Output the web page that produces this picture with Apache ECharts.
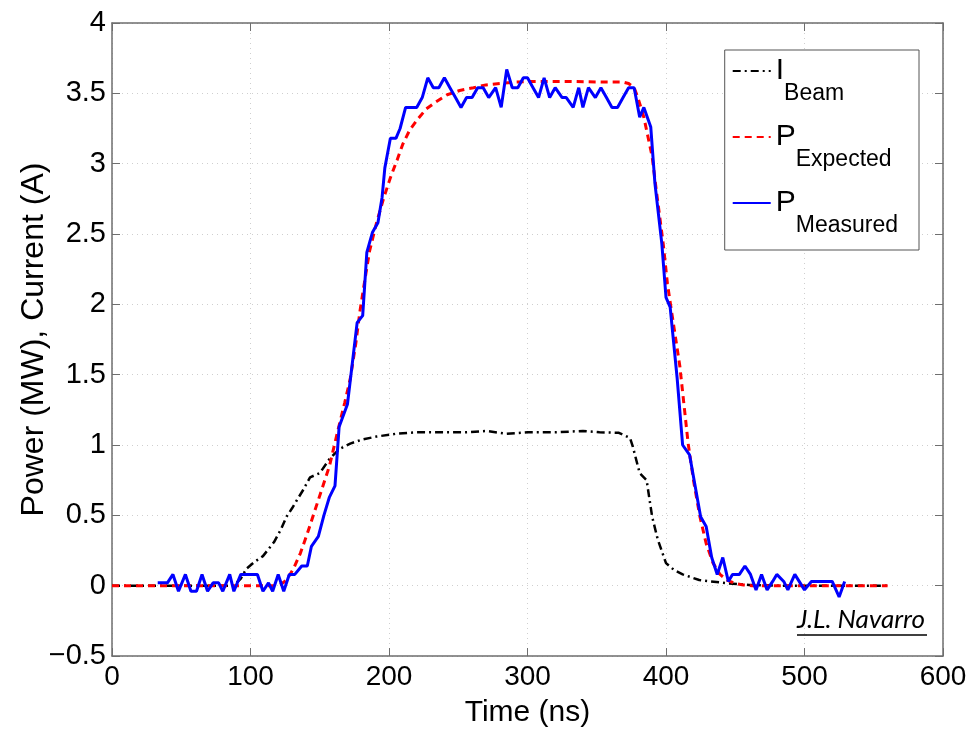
<!DOCTYPE html>
<html>
<head>
<meta charset="utf-8">
<script src="https://cdn.jsdelivr.net/npm/echarts@6/dist/echarts.min.js"></script>
<style>
html,body{margin:0;padding:0;background:#fff;}
#chart{width:970px;height:730px;}
</style>
</head>
<body>
<div id="chart"></div>
<script>
// ---- Data ----
const seriesNames = ['I_Beam', 'P_Expected', 'P_Measured'];
const legendMain = ['I', 'P', 'P'];
const legendSub = ['Beam', 'Expected', 'Measured'];

const xTicks = [0, 100, 200, 300, 400, 500, 600];
const yTicks = [-0.5, 0, 0.5, 1, 1.5, 2, 2.5, 3, 3.5, 4];

// I_Beam (A): [time ns, value]
const beamCurrent = [
  [0,0],[88,0],[93,0.05],[97,0.12],[103,0.17],[109,0.21],[113,0.26],[117,0.31],[122,0.4],
  [126,0.49],[130,0.55],[133,0.6],[138,0.68],[143,0.77],[150,0.8],[157,0.9],[164,0.97],
  [172,1.01],[181,1.04],[191,1.06],[205,1.08],[220,1.09],[240,1.09],[255,1.09],[270,1.1],
  [285,1.08],[300,1.09],[320,1.09],[340,1.1],[352,1.09],[366,1.087],[374,1.05],[376,0.99],
  [381,0.8],[386,0.75],[390,0.49],[394,0.33],[400,0.16],[406,0.11],[412,0.08],[424,0.04],
  [444,0.017],[460,0.005],[480,0],[560,0]
];

// P_Expected (MW)
const expectedPower = [
  [0,0],[118,0],[122,0.01],[126,0.04],[131,0.12],[136,0.23],[141,0.37],[145,0.49],[151,0.67],
  [157,0.85],[163,1.1],[168,1.3],[172,1.47],[176,1.72],[179,1.95],[183,2.2],[186,2.38],
  [191,2.58],[196,2.75],[201,2.9],[206,3.03],[210,3.14],[215,3.24],[221,3.32],[227,3.39],
  [234,3.44],[242,3.49],[251,3.52],[261,3.54],[270,3.56],[280,3.57],[292,3.58],[304,3.585],
  [330,3.585],[355,3.58],[369,3.58],[373,3.57],[377,3.54],[380,3.46],[384,3.33],[390,3.05],
  [393,2.81],[398,2.43],[401,2.15],[404,1.95],[410,1.56],[416,1.01],[420,0.74],[424.5,0.49],
  [429,0.3],[434,0.16],[439,0.08],[444,0.04],[450,0.015],[456,0.005],[462,0],[560,0]
];

// P_Measured (MW)
const measuredPower = [
  [33,0.02],[40,0.02],[44,0.08],[48,-0.04],[53,0.08],[57,-0.04],[61,-0.04],[65,0.08],[69,-0.04],
  [73,0.02],[77,0.02],[80,-0.04],[85,0.08],[88,-0.04],[93,0.08],[105,0.08],[109,-0.04],[113,0.02],
  [116,-0.04],[120,0.08],[124,-0.04],[128,0.08],[132,0.08],[137,0.14],[141,0.14],[144,0.28],
  [149,0.35],[153,0.5],[157,0.63],[161,0.71],[164,1.13],[170,1.29],[177,1.87],[181,1.92],
  [184,2.37],[188,2.51],[192,2.58],[195,2.76],[197,2.97],[201,3.18],[205,3.18],[208,3.25],
  [212,3.4],[220,3.4],[224,3.47],[228,3.61],[232,3.54],[236,3.54],[240,3.61],[244,3.54],
  [248,3.47],[252,3.4],[256,3.47],[260,3.47],[264,3.54],[268,3.54],[272,3.47],[277,3.54],
  [281,3.4],[285,3.67],[289,3.54],[293,3.54],[297,3.61],[300,3.61],[304,3.54],[308,3.47],
  [312,3.61],[316,3.47],[320,3.54],[325,3.47],[328,3.47],[333,3.4],[337,3.54],[340,3.4],
  [344,3.54],[349,3.47],[353,3.54],[357,3.47],[361,3.4],[365,3.4],[369,3.47],[373,3.54],
  [377,3.54],[381,3.33],[384,3.4],[389,3.26],[392,2.86],[397,2.43],[400,2.05],[403,1.98],
  [408,1.48],[412,1.0],[417,0.93],[425,0.49],[429,0.42],[433,0.2],[437,0.08],[441,0.2],
  [445,0.03],[448,0.08],[453,0.08],[457,0.14],[461,0.08],[465,-0.03],[469,0.08],[473,-0.03],
  [477,0.03],[480,0.08],[485,0.03],[488,-0.03],[493,0.08],[500,-0.03],[505,0.03],[520,0.03],
  [525,-0.08],[529,0.03]
];

// ---- Chart ----
const FONT = '"Liberation Sans", Arial, Helvetica, sans-serif';
const AXIS_COLOR = '#6e6e6e';

const chart = echarts.init(document.getElementById('chart'), null, {renderer: 'canvas'});

function yFmt(v) {
  const s = String(Math.abs(v));
  return v < 0 ? '\u2212' + s : s;
}

const baseX = {
  type: 'value', min: xTicks[0], max: xTicks[xTicks.length - 1], interval: xTicks[1] - xTicks[0]
};
const baseY = {
  type: 'value', min: yTicks[0], max: yTicks[yTicks.length - 1], interval: yTicks[1] - yTicks[0]
};

const legendIndex = {};
seriesNames.forEach((n, i) => legendIndex[n] = i);

const option = {
  backgroundColor: '#fff',
  animation: false,
  grid: {left: 112, right: 27, top: 23, bottom: 74, containLabel: false, outerBoundsMode: 'none'},
  xAxis: [
    Object.assign({}, baseX, {
      position: 'bottom',
      name: 'Time (ns)', nameLocation: 'middle', nameGap: 42, nameMoveOverlap: false,
      nameTextStyle: {fontSize: 30, color: '#000', fontFamily: FONT},
      axisLine: {show: true, onZero: false, lineStyle: {color: AXIS_COLOR, width: 1.5}},
      axisTick: {show: true, inside: true, length: 8, lineStyle: {color: AXIS_COLOR}},
      axisLabel: {color: '#000', fontSize: 28, fontFamily: FONT, margin: 7},
      splitLine: {show: true, lineStyle: {color: '#cfcfcf', type: [1, 4], width: 1}}
    }),
    Object.assign({}, baseX, {
      position: 'top',
      axisLine: {show: true, onZero: false, lineStyle: {color: AXIS_COLOR, width: 1.5}},
      axisTick: {show: true, inside: true, length: 8, lineStyle: {color: AXIS_COLOR}},
      axisLabel: {show: false},
      splitLine: {show: false}
    })
  ],
  yAxis: [
    Object.assign({}, baseY, {
      position: 'left',
      name: 'Power (MW), Current (A)', nameLocation: 'middle', nameGap: 62, nameMoveOverlap: false,
      nameTextStyle: {fontSize: 32, color: '#000', fontFamily: FONT},
      axisLine: {show: true, onZero: false, lineStyle: {color: AXIS_COLOR, width: 1.5}},
      axisTick: {show: true, inside: true, length: 8, lineStyle: {color: AXIS_COLOR}},
      axisLabel: {color: '#000', fontSize: 29, fontFamily: FONT, margin: 6, formatter: yFmt},
      splitLine: {show: true, lineStyle: {color: '#cfcfcf', type: [1, 4], width: 1}}
    }),
    Object.assign({}, baseY, {
      position: 'right',
      axisLine: {show: true, onZero: false, lineStyle: {color: AXIS_COLOR, width: 1.5}},
      axisTick: {show: true, inside: true, length: 8, lineStyle: {color: AXIS_COLOR}},
      axisLabel: {show: false},
      splitLine: {show: false}
    })
  ],
  legend: {
    orient: 'vertical',
    right: 51, top: 50,
    data: seriesNames,
    backgroundColor: '#fff',
    borderColor: '#555', borderWidth: 1, borderRadius: 0,
    padding: [6, 21, 13, 7],
    itemWidth: 38, itemHeight: 14, itemGap: 17,
    selectedMode: false,
    itemStyle: {opacity: 0},
    formatter: function (name) {
      const i = legendIndex[name];
      return '{p|' + legendMain[i] + '}{s|' + legendSub[i] + '}';
    },
    textStyle: {
      color: '#000',
      rich: {
        p: {fontSize: 30, lineHeight: 30, fontFamily: FONT, color: '#000', verticalAlign: 'top'},
        s: {fontSize: 23, lineHeight: 22, fontFamily: FONT, color: '#000', verticalAlign: 'top', padding: [26, 0, 0, 0]}
      }
    }
  },
  graphic: [
    {
      type: 'text', left: 797, top: 607, z: 100,
      style: {text: 'J.L. Navarro', font: 'italic 26px Lato, "Open Sans", sans-serif', fill: '#000'}
    },
    {
      type: 'line', z: 100,
      shape: {x1: 797, y1: 635, x2: 927, y2: 635},
      style: {stroke: '#000', lineWidth: 1.5}
    }
  ],
  series: [
    {
      name: seriesNames[0], type: 'line', data: beamCurrent,
      xAxisIndex: 0, yAxisIndex: 0,
      symbol: 'none', showSymbol: false,
      lineStyle: {color: '#000', width: 2.5, type: [8, 4, 2, 4]},
      itemStyle: {color: '#000'}, z: 2
    },
    {
      name: seriesNames[1], type: 'line', data: expectedPower,
      xAxisIndex: 0, yAxisIndex: 0,
      symbol: 'none', showSymbol: false,
      lineStyle: {color: '#ff0000', width: 3, type: [7, 5]},
      itemStyle: {color: '#ff0000'}, z: 3
    },
    {
      name: seriesNames[2], type: 'line', data: measuredPower,
      xAxisIndex: 0, yAxisIndex: 0,
      symbol: 'none', showSymbol: false,
      lineStyle: {color: '#0000ff', width: 3, type: 'solid'},
      itemStyle: {color: '#0000ff'}, z: 4
    }
  ]
};

chart.setOption(option);
</script>
</body>
</html>
